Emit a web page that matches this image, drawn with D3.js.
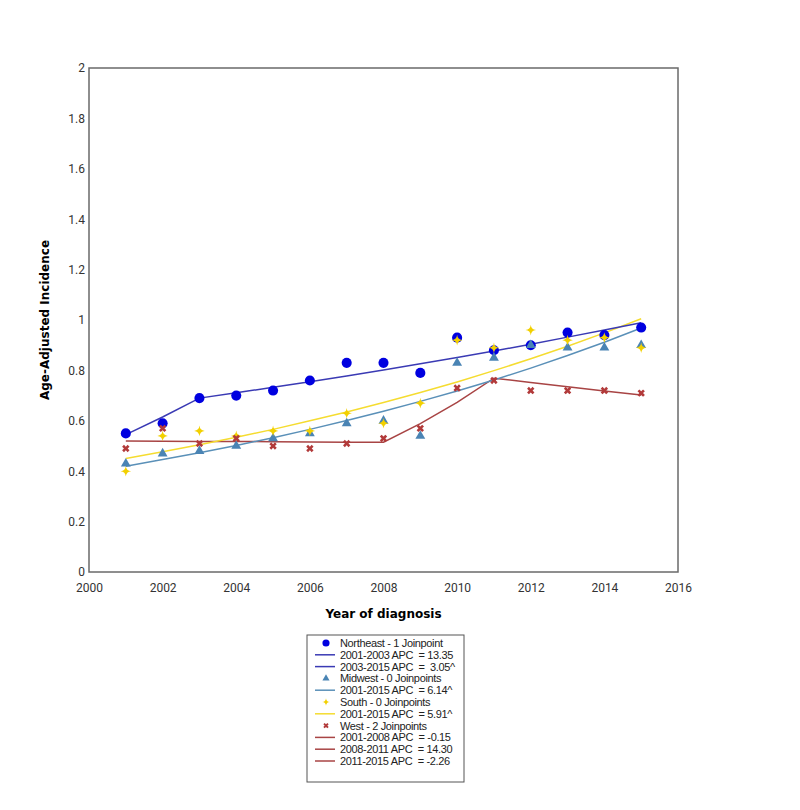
<!DOCTYPE html>
<html>
<head>
<meta charset="utf-8">
<script src="https://cdn.jsdelivr.net/npm/d3@7"></script>
<style>
  body { margin: 0; background: #fff; }
  svg text { font-family: "Liberation Sans", Arial, sans-serif; white-space: pre; }
</style>
</head>
<body>
<svg id="chart" width="800" height="810"></svg>
<script>
// year of diagnosis
var years = [2001, 2002, 2003, 2004, 2005, 2006, 2007, 2008, 2009, 2010, 2011, 2012, 2013, 2014, 2015];

// observed rates
var northeastObs = [0.55, 0.59, 0.69, 0.70, 0.72, 0.76, 0.83, 0.83, 0.79, 0.93, 0.88, 0.90, 0.95, 0.94, 0.97];
var midwestObs   = [0.43, 0.47, 0.48, 0.50, 0.53, 0.55, 0.59, 0.60, 0.54, 0.83, 0.85, 0.90, 0.89, 0.89, 0.90];
var southObs     = [0.40, 0.54, 0.56, 0.54, 0.56, 0.56, 0.63, 0.59, 0.67, 0.92, 0.89, 0.96, 0.92, 0.93, 0.89];
var westObs      = [0.49, 0.57, 0.51, 0.53, 0.50, 0.49, 0.51, 0.53, 0.57, 0.73, 0.76, 0.72, 0.72, 0.72, 0.71];

// joinpoint fitted values
var northeastFit = [0.545, 0.615, 0.690, 0.711, 0.733, 0.755, 0.778, 0.802, 0.826, 0.851, 0.877, 0.904, 0.932, 0.960, 0.989];
var midwestFit   = [0.420, 0.446, 0.473, 0.502, 0.533, 0.566, 0.601, 0.638, 0.677, 0.718, 0.762, 0.809, 0.859, 0.912, 0.968];
var southFit     = [0.450, 0.477, 0.505, 0.535, 0.566, 0.600, 0.635, 0.673, 0.712, 0.754, 0.799, 0.846, 0.896, 0.949, 1.005];
var westFit      = [0.520, 0.519, 0.518, 0.518, 0.517, 0.516, 0.515, 0.515, 0.589, 0.673, 0.769, 0.752, 0.735, 0.718, 0.702];

var xTicks = [2000, 2002, 2004, 2006, 2008, 2010, 2012, 2014, 2016];
var yTicks = [0, 0.2, 0.4, 0.6, 0.8, 1, 1.2, 1.4, 1.6, 1.8, 2];

var legendLabels = [
  "Northeast - 1 Joinpoint", "2001-2003 APC  = 13.35", "2003-2015 APC  =  3.05^",
  "Midwest - 0 Joinpoints", "2001-2015 APC  = 6.14^",
  "South - 0 Joinpoints", "2001-2015 APC  = 5.91^",
  "West - 2 Joinpoints", "2001-2008 APC  = -0.15", "2008-2011 APC  = 14.30", "2011-2015 APC  = -2.26"
];

var colNE = "#0000e0", colNELine = "#3a3ab4";
var colMW = "#4a84b4", colMWLine = "#5a90b8";
var colS = "#f2d000", colSLine = "#f5dc30";
var colW = "#b23a3a", colWLine = "#a84444";

var svg = d3.select("#chart");
var pLeft = 89, pTop = 68, pRight = 678, pBottom = 572;

var x = d3.scaleLinear().domain([2000, 2016]).range([pLeft, pRight]);
var y = d3.scaleLinear().domain([0, 2]).range([pBottom, pTop]);

// ticks
var yAxis = d3.axisLeft(y).tickValues(yTicks).tickSize(0).tickPadding(4).tickFormat(d3.format("~g"));
var xAxis = d3.axisBottom(x).tickValues(xTicks).tickSize(0).tickPadding(11).tickFormat(d3.format("d"));

svg.append("g").attr("transform", "translate(" + pLeft + ",0)").call(yAxis)
  .call(function(g) { g.select(".domain").remove(); })
  .selectAll("text").attr("font-size", 12).attr("fill", "#333").style("font-family", "Roboto, sans-serif");
svg.append("g").attr("transform", "translate(0," + pBottom + ")").call(xAxis)
  .call(function(g) { g.select(".domain").remove(); })
  .selectAll("text").attr("font-size", 12).attr("fill", "#333").style("font-family", "Roboto, sans-serif");

// frame
svg.append("rect").attr("x", pLeft).attr("y", pTop).attr("width", pRight - pLeft).attr("height", pBottom - pTop)
  .attr("fill", "none").attr("stroke", "#6a6a6a").attr("stroke-width", 1.5);

svg.append("text").attr("x", (pLeft + pRight) / 2).attr("y", 618).attr("text-anchor", "middle")
  .attr("font-size", 12).attr("font-weight", "bold").style("font-family", "DejaVu Sans, Verdana, sans-serif")
  .text("Year of diagnosis");
svg.append("text").attr("transform", "translate(49," + (pTop + pBottom) / 2 + ") rotate(-90)").attr("text-anchor", "middle")
  .attr("font-size", 12).attr("font-weight", "bold").style("font-family", "DejaVu Sans, Verdana, sans-serif")
  .text("Age-Adjusted Incidence");

var line = d3.line().x(function(d) { return x(d[0]); }).y(function(d) { return y(d[1]); });
function pairs(vals) { return years.map(function(yr, i) { return [yr, vals[i]]; }); }

// fitted lines
[[westFit, colWLine], [midwestFit, colMWLine], [southFit, colSLine], [northeastFit, colNELine]].forEach(function(s) {
  svg.append("path").datum(pairs(s[0])).attr("d", line).attr("fill", "none")
    .attr("stroke", s[1]).attr("stroke-width", 1.5);
});

var star4 = {
  draw: function(ctx, size) {
    var r = Math.sqrt(size) * 0.75, k = r * 0.28;
    ctx.moveTo(0, -r);
    ctx.quadraticCurveTo(k * 0.3, -k * 0.3, r, 0);
    ctx.quadraticCurveTo(k * 0.3, k * 0.3, 0, r);
    ctx.quadraticCurveTo(-k * 0.3, k * 0.3, -r, 0);
    ctx.quadraticCurveTo(-k * 0.3, -k * 0.3, 0, -r);
    ctx.closePath();
  }
};

function drawPoints(vals, type, size, color, rot) {
  svg.append("g").selectAll("path").data(pairs(vals)).enter().append("path")
    .attr("transform", function(d) { return "translate(" + x(d[0]) + "," + y(d[1]) + ")" + (rot ? " rotate(" + rot + ")" : ""); })
    .attr("d", d3.symbol().type(type).size(size))
    .attr("fill", color);
}

drawPoints(northeastObs, d3.symbolCircle, 80, colNE);
drawPoints(midwestObs, d3.symbolTriangle, 42, colMW);
drawPoints(southObs, star4, 50, colS);
drawPoints(westObs, d3.symbolCross, 34, colW, 45);

// legend
var lg = svg.append("g");
lg.append("rect").attr("x", 307).attr("y", 635).attr("width", 157).attr("height", 147)
  .attr("fill", "#fff").attr("stroke", "#555").attr("stroke-width", 1);

var rowH = 11.8, row0 = 643;
var rowKinds = [
  ["pt", d3.symbolCircle, colNE, 40, 0], ["ln", colNELine], ["ln", colNELine],
  ["pt", d3.symbolTriangle, colMW, 22, 0], ["ln", colMWLine],
  ["pt", star4, colS, 26, 0], ["ln", colSLine],
  ["pt", d3.symbolCross, colW, 18, 45], ["ln", colWLine], ["ln", colWLine], ["ln", colWLine]
];
rowKinds.forEach(function(k, i) {
  var cy = row0 + i * rowH;
  if (k[0] === "pt") {
    lg.append("path").attr("transform", "translate(326," + cy + ") rotate(" + k[4] + ")")
      .attr("d", d3.symbol().type(k[1]).size(k[3])).attr("fill", k[2]);
  } else {
    lg.append("line").attr("x1", 315).attr("x2", 335).attr("y1", cy).attr("y2", cy)
      .attr("stroke", k[1]).attr("stroke-width", 1.5);
  }
  lg.append("text").attr("x", 340).attr("y", cy + 4).attr("font-size", 11).attr("letter-spacing", -0.35)
    .attr("fill", "#222").text(legendLabels[i]);
});
</script>
</body>
</html>
